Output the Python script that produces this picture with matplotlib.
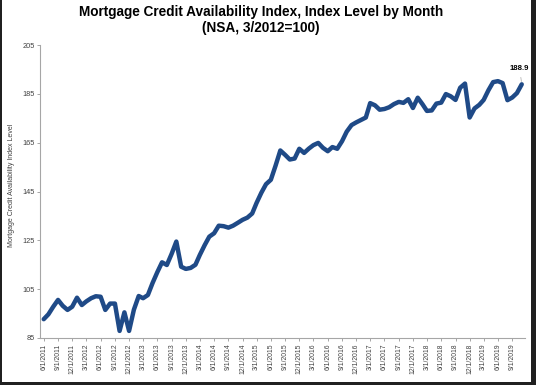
import matplotlib
matplotlib.use('Agg')
import matplotlib.pyplot as plt
from matplotlib.patches import Rectangle
import pandas as pd

plt.rcParams['font.family'] = ['Liberation Sans', 'DejaVu Sans']

# monthly index values, 6/2011 .. 11/2019
mcai = [92.7, 94.7, 97.8, 100.6, 98.2, 96.5, 97.8, 101.5, 98.5, 100.0,
        101.3, 102.1, 101.9, 96.5, 99.1, 99.1, 87.9, 95.5, 87.9, 96.6,
        102.2, 101.3, 102.6, 107.5, 112.0, 116.0, 114.9, 119.5, 124.5, 114.2,
        113.3, 113.7, 115.0, 119.0, 123.0, 126.5, 127.9, 131.0, 130.8, 130.2,
        131.0, 132.2, 133.4, 134.3, 136.0, 140.3, 144.5, 148.0, 149.8, 155.5,
        161.8, 160.0, 158.1, 158.5, 162.5, 160.8, 162.6, 164.0, 164.9, 162.9,
        161.5, 163.2, 162.5, 165.6, 169.5, 172.2, 173.3, 174.3, 175.3, 181.2,
        180.3, 178.5, 178.8, 179.5, 180.8, 181.7, 181.3, 182.8, 179.2, 183.4,
        180.7, 178.0, 178.2, 181.0, 181.4, 184.9, 184.0, 182.5, 187.5, 189.2,
        175.3, 179.0, 180.5, 182.5, 186.5, 189.8, 190.2, 189.4, 182.4, 183.5,
        185.3, 188.9]
months = pd.date_range('2011-06-01', periods=len(mcai), freq='MS')
tick_dates = pd.date_range('2011-06-01', '2019-09-01', freq='3MS')
tick_labels = [f'{d.month}/1/{d.year}' for d in tick_dates]
y_ticks = [85, 105, 125, 145, 165, 185, 205]

fig = plt.figure(figsize=(5.36, 3.85), dpi=100)
fig.patch.set_facecolor('#202020')
fig.add_artist(Rectangle((2 / 536, 3.5 / 385), 529 / 536, 1, transform=fig.transFigure,
                         facecolor='white', edgecolor='none', zorder=-1))

ax = fig.add_axes([40 / 536, 47 / 385, 485 / 536, 293 / 385])
ax.plot(months, mcai, color='#1f4a87', lw=3.2, solid_joinstyle='round', solid_capstyle='round')

ax.set_ylim(85, 205)
ax.set_yticks(y_ticks)
ax.set_xlim(months[0] - pd.Timedelta(days=24), months[-1] + pd.Timedelta(days=21))
ax.set_xticks(tick_dates)
ax.set_xticklabels(tick_labels, rotation=90)

for s in ['top', 'right']:
    ax.spines[s].set_visible(False)
for s in ['left', 'bottom']:
    ax.spines[s].set_color('#a6a6a6')
    ax.spines[s].set_linewidth(0.8)
ax.tick_params(axis='y', length=2.5, width=0.7, color='#a6a6a6', pad=1.5,
               labelsize=5.3, labelcolor='#404040')
ax.tick_params(axis='x', length=2, width=0.7, color='#a6a6a6', pad=2,
               labelsize=4.9, labelcolor='#404040')

ax.set_ylabel('Mortgage Credit Availability Index Level', fontsize=5, color='#404040')
ax.yaxis.set_label_coords(-0.052, 0.52)

ax.annotate(f'{mcai[-1]}', xy=(months[-1], mcai[-1]), xytext=(-1.5, 9),
            textcoords='offset points', ha='center', va='bottom',
            fontsize=5.6, fontweight='bold',
            arrowprops=dict(arrowstyle='-', color='#a6a6a6', lw=0.5))

fig.text(0.487, 0.969, 'Mortgage Credit Availability Index, Index Level by Month',
         ha='center', va='center', fontsize=9.8, fontweight='bold')
fig.text(0.487, 0.927, '(NSA, 3/2012=100)',
         ha='center', va='center', fontsize=9.8, fontweight='bold')

fig.savefig('out.png', dpi=100, facecolor=fig.get_facecolor())
